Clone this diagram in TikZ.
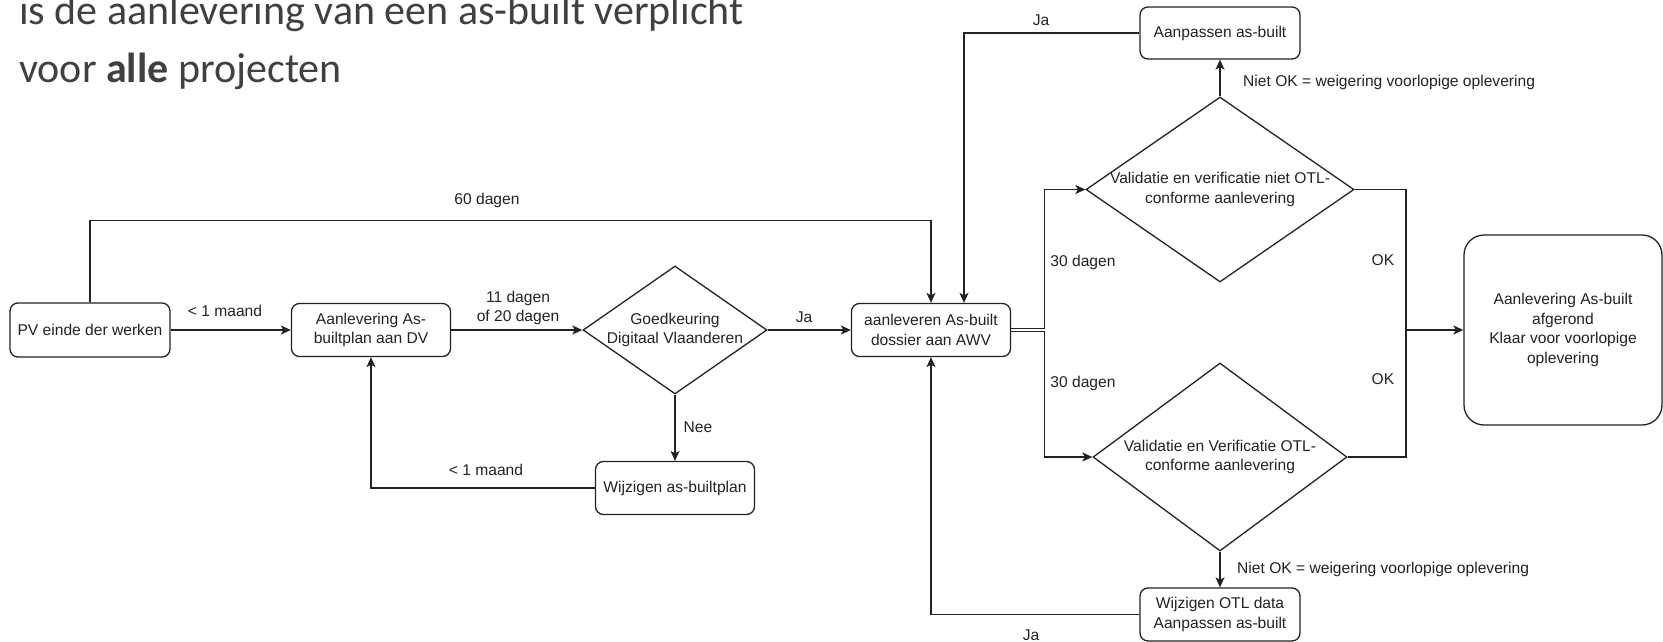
\documentclass[tikz,border=0pt]{standalone}
\usepackage{fontspec}
\setmainfont{Liberation Sans}
\newfontfamily\titlefont{Carlito}
\usetikzlibrary{shapes.geometric,arrows.meta,calc}
\definecolor{titlegray}{HTML}{404040}
\definecolor{ink}{HTML}{222222}
\begin{document}
\begin{tikzpicture}[x=1pt,y=-1pt,
  every node/.style={font=\fontsize{15.6}{19.5}\selectfont, text=ink},
  box/.style={draw=ink, rectangle, rounded corners=8pt, line width=1.3pt, minimum height=53pt, align=center, inner sep=0pt},
  diam/.style={draw=ink, diamond, inner sep=0pt, line width=1.3pt},
  conn/.style={draw=ink, line width=1.3pt},
  arr/.style={conn, -{Stealth[length=10pt,width=9pt,inset=2.5pt]}},
  lbl/.style={align=center, inner sep=0pt},
  ttl/.style={anchor=base west, inner sep=0pt, text=titlegray, font=\titlefont\fontsize{42}{50}\selectfont}
]
\useasboundingbox (0,0) rectangle (1663,642);

% title
\node[ttl] (t1) at (19,25) {is de aanlevering van een as-built verplicht};
\node[ttl] (t2) at (19,82) {voor \textbf{alle} projecten};

% nodes
\node[box, minimum width=160pt, minimum height=54pt] (pv) at (90,330) {PV einde der werken};
\node[box, minimum width=159pt] (aan) at (371,330) {Aanlevering As-\\builtplan aan DV};
\node[diam, minimum width=184pt, minimum height=128pt,
      label={[lbl]center:{Goedkeuring\\Digitaal Vlaanderen}}] (goed) at (675,330) {};
\node[box, minimum width=159pt] (awv) at (931,330) {aanleveren As-built\\dossier aan AWV};
\node[box, minimum width=159pt] (wij) at (675,488) {Wijzigen as-builtplan};
\node[box, minimum width=160pt, minimum height=52pt] (aanp) at (1220,33) {Aanpassen as-built};
\node[diam, minimum width=268pt, minimum height=185pt,
      label={[lbl]center:{Validatie en verificatie niet OTL-\\conforme aanlevering}}] (vup) at (1220,189.5) {};
\node[diam, minimum width=254pt, minimum height=188pt,
      label={[lbl]center:{Validatie en Verificatie OTL-\\conforme aanlevering}}] (vlow) at (1220,457) {};
\node[box, minimum width=160pt, minimum height=53pt] (wotl) at (1220,614.5) {Wijzigen OTL data\\Aanpassen as-built};
\node[box, rounded corners=20pt, minimum width=198pt, minimum height=190pt] (fin) at (1563,330)
  {Aanlevering As-built\\afgerond\\Klaar voor voorlopige\\oplevering};
\coordinate (j) at (1406,330);

% connectors
\draw[arr] (pv) -- (aan);
\draw[arr] (pv.north) -- ++(0,-82) -| (awv.north);
\draw[arr] (aan) -- (goed);
\draw[arr] (goed) -- (awv);
\draw[arr] (goed) -- (wij);
\draw[arr] (wij.west) -| (aan.south);
\draw[arr] (aanp.west) -| ($(awv.north)+(33,0)$);
\draw[arr] ($(awv.east)+(0,-1.5)$) -| ($(vup.west)+(-41,0)$) -- (vup.west);
\draw[arr] ($(awv.east)+(0,1.5)$) -| ($(vlow.west)+(-48,0)$) -- (vlow.west);
\draw[arr] (vup.north) -- (aanp.south);
\draw[arr] (vlow.south) -- (wotl.north);
\draw[arr] (wotl.west) -| (awv.south);
\draw[conn] (vup.east) -| (j);
\draw[conn] (vlow.east) -| (j);
\draw[arr] (j) -- (fin.west);

% labels
\node[lbl] (l60) at (487,200) {60 dagen};
\node[lbl] (lm1) at (225,311) {< 1 maand};
\node[lbl] (l11) at (518,308) {11 dagen\\of 20 dagen};
\node[lbl] (lja1) at (804,317) {Ja};
\node[lbl] (lnee) at (698,427) {Nee};
\node[lbl] (lm2) at (486,470) {< 1 maand};
\node[lbl] (lja2) at (1041,20) {Ja};
\node[lbl, anchor=west] (lnok1) at (1243,82) {Niet OK = weigering voorlopige oplevering};
\node[lbl] (l30a) at (1083,262) {30 dagen};
\node[lbl] (l30b) at (1083,383) {30 dagen};
\node[lbl] (lok1) at (1383,260) {OK};
\node[lbl] (lok2) at (1383,379) {OK};
\node[lbl, anchor=west] (lnok2) at (1237,569) {Niet OK = weigering voorlopige oplevering};
\node[lbl] (lja3) at (1031,635) {Ja};
\end{tikzpicture}
\end{document}
